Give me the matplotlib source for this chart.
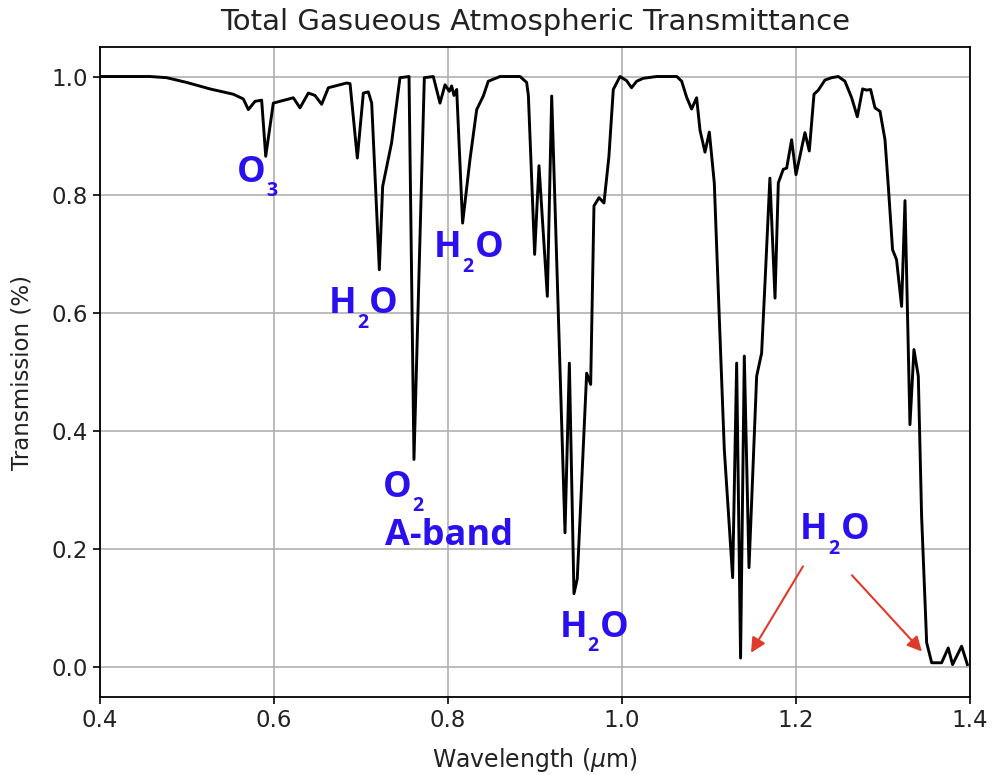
import matplotlib
matplotlib.use("Agg")
import matplotlib.pyplot as plt

wavelength = [
    0.400, 0.430, 0.4575, 0.4766, 0.4996, 0.5264, 0.5533, 0.5648, 0.5705, 0.5782,
    0.5858, 0.5905, 0.5992, 0.6222, 0.6299, 0.6395, 0.6471, 0.6548, 0.6625, 0.6835,
    0.6874, 0.6958, 0.7027, 0.7084, 0.7123, 0.7211, 0.7249, 0.7352, 0.7448, 0.7552,
    0.7609, 0.7728, 0.7831, 0.7908, 0.7966, 0.8015, 0.8042, 0.8069, 0.8100, 0.8168,
    0.8253, 0.8330, 0.8406, 0.8463, 0.8598, 0.8828, 0.8904, 0.8924, 0.8996, 0.9046,
    0.9142, 0.9192, 0.9345, 0.9395, 0.9448, 0.9486, 0.9594, 0.9640, 0.9678, 0.9736,
    0.9793, 0.9850, 0.9900, 0.9977, 1.0053, 1.0110, 1.0169, 1.0245, 1.0400, 1.0630,
    1.0686, 1.0743, 1.0800, 1.0858, 1.0897, 1.0954, 1.1004, 1.1061, 1.1118, 1.1176,
    1.1272, 1.1318, 1.1363, 1.1406, 1.1460, 1.1548, 1.1605, 1.1644, 1.1700, 1.1759,
    1.1797, 1.1854, 1.1893, 1.1950, 1.2000, 1.2103, 1.2153, 1.2207, 1.2257, 1.2333,
    1.2410, 1.2486, 1.2563, 1.2640, 1.2705, 1.2766, 1.2812, 1.2858, 1.2908, 1.2966,
    1.3023, 1.3061, 1.3110, 1.3156, 1.3214, 1.3253, 1.3310, 1.3356, 1.3406, 1.3444,
    1.3502, 1.3560, 1.3674, 1.3750, 1.3800, 1.3904, 1.3970,
]
transmittance = [
    1.000, 1.000, 1.000, 0.998, 0.990, 0.979, 0.970, 0.962, 0.944, 0.958,
    0.960, 0.865, 0.955, 0.964, 0.947, 0.972, 0.968, 0.953, 0.981, 0.989,
    0.988, 0.862, 0.972, 0.974, 0.955, 0.673, 0.814, 0.888, 0.998, 1.000,
    0.352, 0.998, 1.000, 0.955, 0.986, 0.975, 0.984, 0.968, 0.978, 0.752,
    0.860, 0.944, 0.967, 0.992, 1.000, 1.000, 0.990, 0.968, 0.699, 0.849,
    0.628, 0.967, 0.228, 0.515, 0.125, 0.150, 0.498, 0.479, 0.781, 0.795,
    0.786, 0.865, 0.978, 1.000, 0.993, 0.981, 0.992, 0.997, 1.000, 1.000,
    0.992, 0.965, 0.945, 0.964, 0.909, 0.872, 0.906, 0.820, 0.594, 0.369,
    0.152, 0.515, 0.016, 0.527, 0.169, 0.493, 0.532, 0.651, 0.828, 0.625,
    0.820, 0.843, 0.845, 0.893, 0.834, 0.905, 0.874, 0.970, 0.977, 0.994,
    0.998, 1.000, 0.992, 0.964, 0.932, 0.979, 0.977, 0.978, 0.947, 0.941,
    0.893, 0.815, 0.707, 0.690, 0.611, 0.790, 0.411, 0.538, 0.493, 0.256,
    0.042, 0.008, 0.008, 0.033, 0.005, 0.036, 0.005,
]

x_ticks = [0.4, 0.6, 0.8, 1.0, 1.2, 1.4]
y_ticks = [0.0, 0.2, 0.4, 0.6, 0.8, 1.0]

# annotation labels: (main, subscript, tail, x, y)
labels = [
    ('O', '3', '', 0.5575, 0.822),
    ('H', '2', 'O', 0.6635, 0.599),
    ('H', '2', 'O', 0.7842, 0.694),
    ('O', '2', '', 0.7255, 0.289),
    ('A-band', '', '', 0.7277, 0.208),
    ('H', '2', 'O', 0.9279, 0.052),
    ('H', '2', 'O', 1.2049, 0.2166),
]
arrows = [
    ((1.208, 0.171), (1.1483, 0.025)),
    ((1.2644, 0.156), (1.3448, 0.027)),
]

fig = plt.figure(figsize=(9.92, 7.75), dpi=100)
ax = fig.add_axes([0.1008, 0.1006, 0.9778 - 0.1008, 0.9394 - 0.1006])

ax.plot(wavelength, transmittance, color='black', lw=2.1, zorder=3)
ax.set_xlim(0.4, 1.4)
ax.set_ylim(-0.05, 1.05)
ax.set_xticks(x_ticks)
ax.set_yticks(y_ticks)
ax.grid(True, color='#b0b0b0', lw=1.2)
ax.tick_params(labelsize=16.5, width=1.2, length=5, labelcolor='#222222')
for s in ax.spines.values():
    s.set_linewidth(1.3)

ax.set_title('Total Gasueous Atmospheric Transmittance', fontsize=21,
             color='#222222', pad=12)
ax.set_xlabel(r'Wavelength ($\mu$m)', fontsize=17, color='#222222', labelpad=10)
ax.set_ylabel('Transmission (%)', fontsize=16.5, color='#222222', labelpad=13)

lab_color = '#2a10f0'
kw = dict(color=lab_color, fontweight='bold', family='Open Sans', zorder=4)
for main, sub, tail, x, y in labels:
    t_main = ax.text(x, y, main, fontsize=26, ha='left', va='baseline', **kw)
    if sub:
        t_sub = ax.annotate(sub, xy=(1, 0), xycoords=t_main, xytext=(0.5, -7.5),
                            textcoords='offset points', fontsize=14,
                            ha='left', va='bottom', **kw)
        if tail:
            ax.annotate(tail, xy=(1, 0), xycoords=(t_sub, t_main), xytext=(0.5, 0),
                        textcoords='offset points', fontsize=26,
                        ha='left', va='bottom', **kw)

for (x0, y0), (x1, y1) in arrows:
    ax.annotate('', xy=(x1, y1), xytext=(x0, y0),
                arrowprops=dict(arrowstyle='-|>', color='#e03a2a', lw=1.5,
                                mutation_scale=22, shrinkA=0, shrinkB=0))

fig.savefig('out.png', dpi=100)
